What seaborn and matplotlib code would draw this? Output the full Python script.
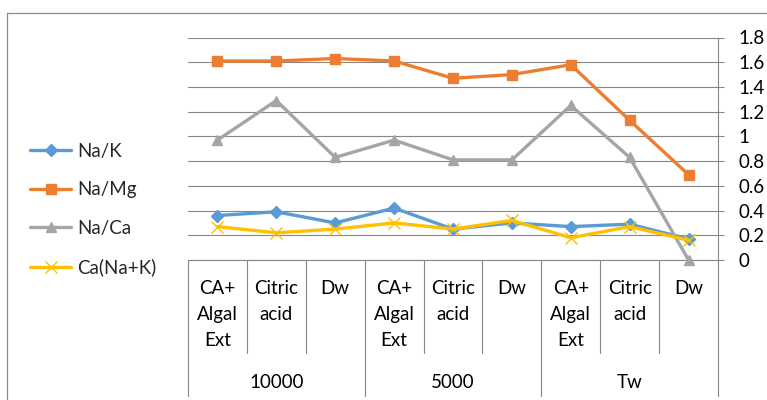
import matplotlib
matplotlib.use("Agg")
import matplotlib.pyplot as plt
import matplotlib.transforms as mtransforms
from matplotlib.lines import Line2D
import seaborn as sns
import numpy as np

# ---- data ----
groups = ["10000", "5000", "Tw"]
treatments = ["CA+\nAlgal\nExt", "Citric\nacid", "Dw"]
series_names = ["Na/K", "Na/Mg", "Na/Ca", "Ca(Na+K)"]
na_k = [0.36, 0.39, 0.30, 0.42, 0.25, 0.30, 0.27, 0.29, 0.17]
na_mg = [1.61, 1.61, 1.63, 1.61, 1.47, 1.50, 1.58, 1.13, 0.69]
na_ca = [0.97, 1.29, 0.83, 0.97, 0.81, 0.81, 1.25, 0.83, 0.0]
ca_nak = [0.27, 0.22, 0.25, 0.30, 0.25, 0.32, 0.18, 0.27, 0.16]
y_ticks = [0, 0.2, 0.4, 0.6, 0.8, 1.0, 1.2, 1.4, 1.6, 1.8]
y_labels = ["0", "0.2", "0.4", "0.6", "0.8", "1", "1.2", "1.4", "1.6", "1.8"]

sns.set_style("white")
plt.rcParams["font.family"] = ["Lato", "DejaVu Sans"]
FS = 13.5

W, H = 767, 400
fig = plt.figure(figsize=(W / 100, H / 100), dpi=100)
ax = fig.add_axes([188 / W, (H - 260) / H, 530 / W, 222.5 / H])

pos = np.arange(len(na_k))
styles = [
    (na_k, "#5B9BD5", "D", 6.5, 1.0),
    (na_mg, "#ED7D31", "s", 7.0, 1.0),
    (na_ca, "#A5A5A5", "^", 7.5, 1.0),
    (ca_nak, "#FFC000", "x", 8.0, 1.0),
]
for (vals, col, mk, ms, mew), name in zip(styles, series_names):
    sns.lineplot(x=pos, y=vals, ax=ax, color=col, lw=2.4, marker=mk,
                 markersize=ms, markeredgecolor=col, markerfacecolor=col,
                 markeredgewidth=mew, label=name, legend=False, zorder=3,
                 clip_on=False)
handles = list(ax.lines[:4])

ax.set_xlim(-0.5, len(pos) - 0.5)
ax.set_ylim(0, 1.8)
ax.set_yticks(y_ticks)
ax.set_yticklabels(y_labels)
ax.yaxis.tick_right()
ax.tick_params(axis="y", which="both", right=True, left=False, length=4.5,
               width=0.75, color="#868686", pad=10, labelsize=FS, labelcolor="#000000")
ax.set_xticks([])
ax.set_xlabel("")
ax.set_ylabel("")
ax.grid(axis="y", color="#868686", lw=0.8)
ax.set_axisbelow(True)
for s in ["left", "top"]:
    ax.spines[s].set_visible(False)
for s in ["right", "bottom"]:
    ax.spines[s].set_visible(True)
    ax.spines[s].set_color("#868686")
    ax.spines[s].set_linewidth(0.8)

# multi-level category axis
tr = mtransforms.blended_transform_factory(ax.transData, fig.transFigure)
def fy(py):
    return 1 - py / H

n = len(pos)
for k in range(n + 1):
    x = k - 0.5
    y_end = 396 if k % 3 == 0 else 353
    ax.add_artist(Line2D([x, x], [fy(260), fy(y_end)], transform=tr,
                         color="#868686", lw=0.8, clip_on=False))

baselines = [294, 320, 346]
for gi, g in enumerate(groups):
    for ti, t in enumerate(treatments):
        idx = gi * 3 + ti
        for li, line in enumerate(t.split("\n")):
            ax.text(idx, fy(baselines[li]), line, transform=tr, ha="center",
                    va="baseline", fontsize=FS, color="#000000", clip_on=False)
    ax.text(gi * 3 + 1, fy(388), g, transform=tr, ha="center", va="baseline",
            fontsize=FS, color="#000000", clip_on=False)

# legend
leg = fig.legend(handles=handles, labels=series_names, loc="center left",
                 bbox_to_anchor=(30 / W, fy(209.5)), bbox_transform=fig.transFigure,
                 frameon=False, fontsize=FS, handlelength=2.2, handletextpad=0.3,
                 labelspacing=1.15, borderpad=0, borderaxespad=0, numpoints=1)

# chart frame
fig.add_artist(Line2D([7 / W, 1.0], [fy(13), fy(13)], transform=fig.transFigure,
                      color="#8c8c8c", lw=0.9))
fig.add_artist(Line2D([7 / W, 7 / W], [fy(13), 0.0], transform=fig.transFigure,
                      color="#8c8c8c", lw=0.9))

fig.savefig("out.png", dpi=100)
